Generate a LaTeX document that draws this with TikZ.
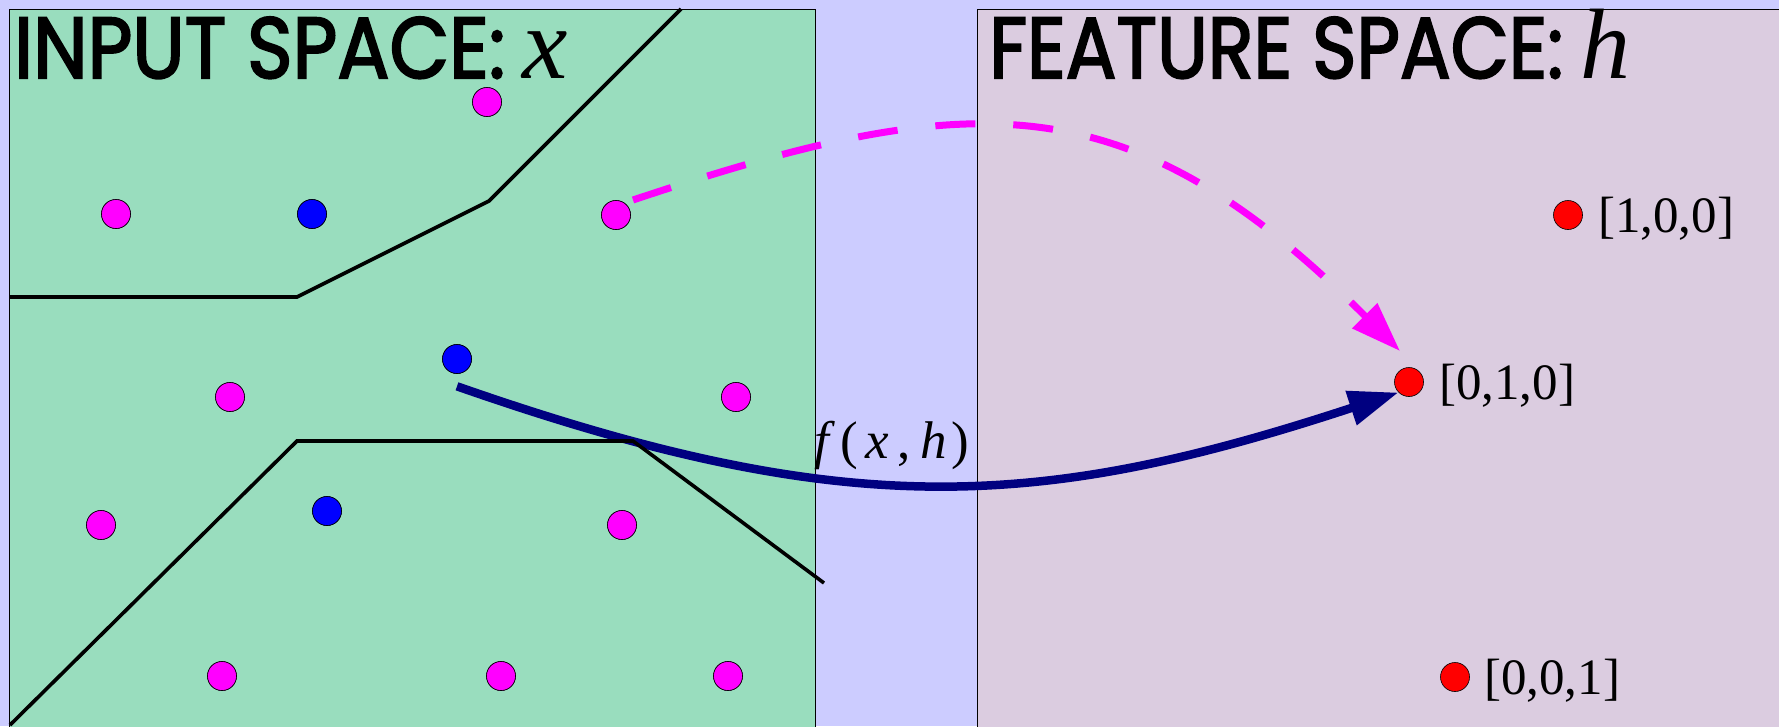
\documentclass[tikz,border=0pt]{standalone}
\usepackage{fontspec}
\setmainfont{Liberation Serif}
\newfontfamily\titlefont{Poppins}[FakeBold=2.5]
\usetikzlibrary{arrows.meta,calc}
\definecolor{bgc}{HTML}{CCCCFF}
\definecolor{leftc}{HTML}{99DDBE}
\definecolor{rightc}{HTML}{DBCCE0}
\definecolor{navyc}{HTML}{000080}
\definecolor{magc}{HTML}{FF00FF}
\definecolor{bluec}{HTML}{0000FF}
\definecolor{redc}{HTML}{FF0000}
\begin{document}
\begin{tikzpicture}[x=1pt,y=-1pt,
  dot/.style={circle,draw=black,line width=0.6pt,minimum size=29pt,inner sep=0pt},
  mdot/.style={dot,fill=magc},
  bdot/.style={dot,fill=bluec},
  rdot/.style={dot,fill=redc},
  panel/.style={draw=black,line width=1pt},
  boundary/.style={draw=black,line width=3.6pt},
  title/.style={inner sep=0pt,anchor=base west},
  vec/.style={inner sep=0pt,anchor=base west,font=\fontsize{51}{60}\selectfont},
  maparrow/.style={line width=8.5pt,draw=navyc,-{Triangle[length=50pt,width=34pt]}},
  dasharrow/.style={line width=7pt,draw=magc,dash pattern=on 40pt off 38pt,-{Triangle[length=50pt,width=34pt]}}
]
\useasboundingbox (0,0) rectangle (1779,726);
\fill[bgc] (0,0) rectangle (1779,726);
\fill[leftc] (9,9) rectangle (815,740);
\draw[panel] (9,740) -- (9,9) -- (815,9) -- (815,740);
\fill[rightc] (977,9) rectangle (1790,740);
\draw[panel] (977,740) -- (977,9) -- (1790,9);

% titles
\node[title] (t1) at (14,78) {\resizebox{491pt}{61pt}{\titlefont INPUT SPACE:}};
\node[title] (t1x) at (522,78) {\fontsize{102}{110}\selectfont\itshape x};
\node[title] (t2) at (989,78) {\resizebox{574pt}{61pt}{\titlefont FEATURE SPACE:}};
\node[title] (t2h) at (1580,78) {\fontsize{100}{110}\selectfont\itshape h};

% input points
\node[mdot] (m1) at (487,102) {};
\node[mdot] (m2) at (116,214) {};
\node[mdot] (m3) at (616,215) {};
\node[mdot] (m4) at (230,397) {};
\node[mdot] (m5) at (736,397) {};
\node[mdot] (m6) at (101,525) {};
\node[mdot] (m7) at (622,525) {};
\node[mdot] (m8) at (222,676) {};
\node[mdot] (m9) at (501,676) {};
\node[mdot] (m10) at (728,676) {};
\node[bdot] (b1) at (312,214) {};
\node[bdot] (b2) at (457,359) {};
\node[bdot] (b3) at (327,511) {};

% feature points
\node[rdot] (r1) at (1568,215) {};
\node[rdot] (r2) at (1409,382) {};
\node[rdot] (r3) at (1455,677) {};
\node[vec] (v1) at (1598,232) {[1,0,0]};
\node[vec] (v2) at (1439,399) {[0,1,0]};
\node[vec] (v3) at (1484,694) {[0,0,1]};

% mapping label
\node[inner sep=0pt,anchor=base west,font=\fontsize{53}{60}\selectfont] (flab) at (814,458)
  {\textit{f}\hspace{5pt}(\hspace{8pt}\textit{x}\hspace{8pt},\hspace{10pt}\textit{h}\hspace{5pt})};

% connectors
\coordinate (bs) at ($(b2.south)+(0,12.5)$);
\coordinate (bt) at (r2.south west);
\draw[maparrow] (bs) .. controls (845,522) and (1038,511) .. (bt);

\coordinate (ms) at ($(m3)+(17,-15)$);
\coordinate (mt) at ($(r2)+(-9,-31)$);
\draw[dasharrow] (ms) .. controls (969,88) and (1127,78) .. (mt);

% decision boundaries
\draw[boundary] (9,297) -- (297,297) -- (489,201) -- (681,9);
\draw[boundary] (10,725) -- (297,441) -- (633,441) -- (824,583);

% redraw dots on top
\foreach \n in {m1,m2,m3,m4,m5,m6,m7,m8,m9,m10}{\node[mdot] at (\n) {};}
\foreach \n in {b1,b2,b3}{\node[bdot] at (\n) {};}
\end{tikzpicture}
\end{document}
